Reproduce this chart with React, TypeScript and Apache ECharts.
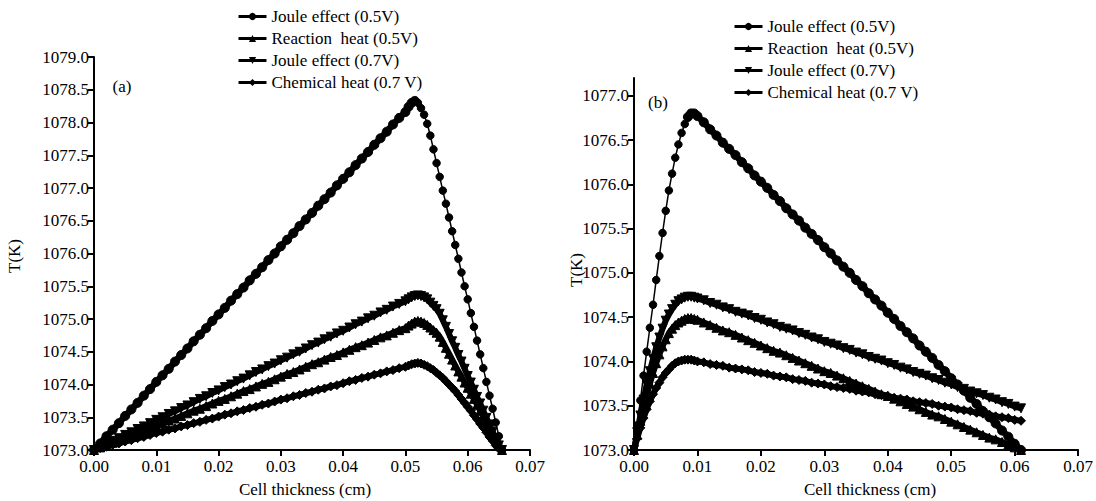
import React, { useEffect, useRef } from "react";
import * as echarts from "echarts";

const seriesNames = ["Joule effect (0.5V)", "Reaction  heat (0.5V)", "Joule effect (0.7V)", "Chemical heat (0.7 V)"];
const seriesSymbols = ["circle", "triangle", "triangle", "diamond"];
const symbolRotations = [0, 0, 180, 0];

// Panel (a)
const xA = [
  0, 0.001, 0.002, 0.003, 0.004, 0.005, 0.006, 0.007, 0.008, 0.009,
  0.010, 0.011, 0.012, 0.013, 0.014, 0.015, 0.016, 0.017, 0.018, 0.019,
  0.020, 0.021, 0.022, 0.023, 0.024, 0.025, 0.026, 0.027, 0.028, 0.029,
  0.030, 0.031, 0.032, 0.033, 0.034, 0.035, 0.036, 0.037, 0.038, 0.039,
  0.040, 0.041, 0.042, 0.043, 0.044, 0.045, 0.046, 0.047, 0.048, 0.049,
  0.050, 0.0505, 0.051, 0.0515, 0.052, 0.0525, 0.053, 0.0535, 0.054, 0.0545,
  0.055, 0.0555, 0.056, 0.0565, 0.057, 0.0575, 0.058, 0.0585, 0.059, 0.0595,
  0.060, 0.0605, 0.061, 0.0615, 0.062, 0.0625, 0.063, 0.0635, 0.064, 0.0645,
  0.065, 0.0655,
];
const jouleA05 = [
  1073.00, 1073.10, 1073.21, 1073.31, 1073.41, 1073.52, 1073.62, 1073.72, 1073.83, 1073.93,
  1074.04, 1074.14, 1074.24, 1074.35, 1074.45, 1074.55, 1074.66, 1074.76, 1074.86, 1074.97,
  1075.07, 1075.17, 1075.28, 1075.38, 1075.48, 1075.59, 1075.69, 1075.79, 1075.90, 1076.00,
  1076.11, 1076.21, 1076.31, 1076.42, 1076.52, 1076.62, 1076.73, 1076.83, 1076.93, 1077.04,
  1077.14, 1077.24, 1077.35, 1077.45, 1077.55, 1077.66, 1077.76, 1077.86, 1077.97, 1078.07,
  1078.16, 1078.24, 1078.30, 1078.33, 1078.30, 1078.22, 1078.12, 1077.98, 1077.80, 1077.59,
  1077.38, 1077.17, 1076.96, 1076.76, 1076.55, 1076.34, 1076.13, 1075.92, 1075.71, 1075.50,
  1075.30, 1075.09, 1074.88, 1074.67, 1074.46, 1074.25, 1074.04, 1073.83, 1073.63, 1073.42,
  1073.21, 1073.00,
];
const reactionA05 = [
  1073.00, 1073.04, 1073.07, 1073.11, 1073.15, 1073.19, 1073.22, 1073.26, 1073.30, 1073.34,
  1073.37, 1073.41, 1073.45, 1073.48, 1073.52, 1073.56, 1073.60, 1073.63, 1073.67, 1073.71,
  1073.75, 1073.78, 1073.82, 1073.86, 1073.90, 1073.93, 1073.97, 1074.01, 1074.04, 1074.08,
  1074.12, 1074.16, 1074.19, 1074.23, 1074.27, 1074.31, 1074.34, 1074.38, 1074.42, 1074.45,
  1074.49, 1074.53, 1074.57, 1074.60, 1074.64, 1074.68, 1074.72, 1074.75, 1074.79, 1074.83,
  1074.86, 1074.90, 1074.93, 1074.96, 1074.97, 1074.96, 1074.94, 1074.91, 1074.87, 1074.83,
  1074.79, 1074.73, 1074.65, 1074.56, 1074.47, 1074.38, 1074.29, 1074.20, 1074.12, 1074.03,
  1073.95, 1073.86, 1073.78, 1073.69, 1073.60, 1073.52, 1073.43, 1073.34, 1073.26, 1073.17,
  1073.09, 1073.00,
];
const jouleA07 = [
  1073.00, 1073.05, 1073.09, 1073.14, 1073.18, 1073.23, 1073.27, 1073.32, 1073.36, 1073.41,
  1073.46, 1073.50, 1073.55, 1073.59, 1073.64, 1073.68, 1073.73, 1073.78, 1073.82, 1073.87,
  1073.91, 1073.96, 1074.00, 1074.05, 1074.09, 1074.14, 1074.19, 1074.23, 1074.28, 1074.32,
  1074.37, 1074.41, 1074.46, 1074.50, 1074.55, 1074.60, 1074.64, 1074.69, 1074.73, 1074.78,
  1074.82, 1074.87, 1074.92, 1074.96, 1075.01, 1075.05, 1075.10, 1075.14, 1075.19, 1075.23,
  1075.27, 1075.30, 1075.33, 1075.35, 1075.36, 1075.35, 1075.33, 1075.30, 1075.25, 1075.20,
  1075.15, 1075.08, 1074.98, 1074.88, 1074.77, 1074.66, 1074.56, 1074.45, 1074.35, 1074.24,
  1074.13, 1074.03, 1073.92, 1073.81, 1073.71, 1073.60, 1073.49, 1073.39, 1073.28, 1073.18,
  1073.07, 1073.00,
];
const chemA07 = [
  1073.00, 1073.03, 1073.05, 1073.08, 1073.10, 1073.13, 1073.15, 1073.18, 1073.20, 1073.23,
  1073.26, 1073.28, 1073.31, 1073.33, 1073.36, 1073.38, 1073.41, 1073.43, 1073.46, 1073.48,
  1073.51, 1073.54, 1073.56, 1073.59, 1073.61, 1073.64, 1073.66, 1073.69, 1073.71, 1073.74,
  1073.77, 1073.79, 1073.82, 1073.84, 1073.87, 1073.89, 1073.92, 1073.94, 1073.97, 1073.99,
  1074.02, 1074.05, 1074.07, 1074.10, 1074.12, 1074.15, 1074.17, 1074.20, 1074.22, 1074.25,
  1074.27, 1074.29, 1074.31, 1074.32, 1074.33, 1074.32, 1074.30, 1074.28, 1074.25, 1074.22,
  1074.18, 1074.14, 1074.10, 1074.05, 1074.00, 1073.95, 1073.90, 1073.84, 1073.78, 1073.72,
  1073.66, 1073.60, 1073.53, 1073.47, 1073.40, 1073.34, 1073.27, 1073.20, 1073.14, 1073.07,
  1073.02, 1073.00,
];

// Panel (b)
const xB = [
  0, 0.0005, 0.001, 0.0015, 0.002, 0.0025, 0.003, 0.0035, 0.004, 0.0045,
  0.005, 0.0055, 0.006, 0.0065, 0.007, 0.0075, 0.008, 0.0085, 0.009, 0.0095,
  0.010, 0.011, 0.012, 0.013, 0.014, 0.015, 0.016, 0.017, 0.018, 0.019,
  0.020, 0.021, 0.022, 0.023, 0.024, 0.025, 0.026, 0.027, 0.028, 0.029,
  0.030, 0.031, 0.032, 0.033, 0.034, 0.035, 0.036, 0.037, 0.038, 0.039,
  0.040, 0.041, 0.042, 0.043, 0.044, 0.045, 0.046, 0.047, 0.048, 0.049,
  0.050, 0.051, 0.052, 0.053, 0.054, 0.055, 0.056, 0.057, 0.058, 0.059,
  0.060, 0.061,
];
const jouleB05 = [
  1073.00, 1073.28, 1073.56, 1073.84, 1074.11, 1074.38, 1074.64, 1074.92, 1075.19, 1075.45,
  1075.70, 1075.93, 1076.12, 1076.30, 1076.45, 1076.58, 1076.68, 1076.76, 1076.80, 1076.80,
  1076.77, 1076.70, 1076.62, 1076.55, 1076.47, 1076.40, 1076.33, 1076.25, 1076.18, 1076.10,
  1076.03, 1075.96, 1075.88, 1075.81, 1075.73, 1075.66, 1075.59, 1075.51, 1075.44, 1075.37,
  1075.29, 1075.22, 1075.14, 1075.07, 1075.00, 1074.92, 1074.85, 1074.77, 1074.70, 1074.63,
  1074.55, 1074.48, 1074.40, 1074.33, 1074.26, 1074.18, 1074.11, 1074.04, 1073.96, 1073.89,
  1073.81, 1073.74, 1073.67, 1073.59, 1073.52, 1073.44, 1073.37, 1073.30, 1073.22, 1073.15,
  1073.07, 1073.00,
];
const reactionB05 = [
  1073.00, 1073.17, 1073.33, 1073.48, 1073.62, 1073.75, 1073.87, 1073.98, 1074.08, 1074.17,
  1074.25, 1074.32, 1074.37, 1074.41, 1074.44, 1074.46, 1074.48, 1074.49, 1074.49, 1074.48,
  1074.47, 1074.44, 1074.41, 1074.38, 1074.35, 1074.33, 1074.30, 1074.27, 1074.24, 1074.21,
  1074.18, 1074.15, 1074.12, 1074.10, 1074.07, 1074.04, 1074.01, 1073.98, 1073.95, 1073.92,
  1073.89, 1073.87, 1073.84, 1073.81, 1073.78, 1073.75, 1073.72, 1073.69, 1073.66, 1073.63,
  1073.61, 1073.58, 1073.55, 1073.52, 1073.49, 1073.46, 1073.43, 1073.40, 1073.38, 1073.35,
  1073.32, 1073.29, 1073.26, 1073.23, 1073.20, 1073.17, 1073.14, 1073.12, 1073.09, 1073.06,
  1073.03, 1073.00,
];
const jouleB07 = [
  1073.00, 1073.20, 1073.39, 1073.57, 1073.74, 1073.89, 1074.03, 1074.16, 1074.27, 1074.37,
  1074.46, 1074.53, 1074.59, 1074.64, 1074.68, 1074.70, 1074.72, 1074.73, 1074.73, 1074.72,
  1074.71, 1074.69, 1074.66, 1074.64, 1074.61, 1074.59, 1074.56, 1074.54, 1074.52, 1074.49,
  1074.47, 1074.44, 1074.42, 1074.39, 1074.37, 1074.35, 1074.32, 1074.30, 1074.27, 1074.25,
  1074.22, 1074.20, 1074.18, 1074.15, 1074.13, 1074.10, 1074.08, 1074.05, 1074.03, 1074.01,
  1073.98, 1073.96, 1073.93, 1073.91, 1073.88, 1073.86, 1073.84, 1073.81, 1073.79, 1073.76,
  1073.74, 1073.71, 1073.69, 1073.66, 1073.64, 1073.62, 1073.59, 1073.57, 1073.54, 1073.52,
  1073.49, 1073.47,
];
const chemB07 = [
  1073.00, 1073.13, 1073.25, 1073.36, 1073.46, 1073.55, 1073.63, 1073.70, 1073.76, 1073.82,
  1073.87, 1073.91, 1073.95, 1073.98, 1074.00, 1074.01, 1074.02, 1074.02, 1074.02, 1074.01,
  1074.00, 1073.99, 1073.97, 1073.96, 1073.95, 1073.93, 1073.92, 1073.91, 1073.90, 1073.88,
  1073.87, 1073.86, 1073.84, 1073.83, 1073.82, 1073.80, 1073.79, 1073.78, 1073.76, 1073.75,
  1073.74, 1073.72, 1073.71, 1073.70, 1073.69, 1073.67, 1073.66, 1073.65, 1073.63, 1073.62,
  1073.61, 1073.59, 1073.58, 1073.57, 1073.55, 1073.54, 1073.53, 1073.52, 1073.50, 1073.49,
  1073.48, 1073.46, 1073.45, 1073.44, 1073.42, 1073.41, 1073.40, 1073.38, 1073.37, 1073.36,
  1073.34, 1073.33,
];

const yTicksA = [1073, 1073.5, 1074, 1074.5, 1075, 1075.5, 1076, 1076.5, 1077, 1077.5, 1078, 1078.5, 1079];
const yTicksB = [1073, 1073.5, 1074, 1074.5, 1075, 1075.5, 1076, 1076.5, 1077];
const xTicks = [0, 0.01, 0.02, 0.03, 0.04, 0.05, 0.06, 0.07];

const FONT = "Liberation Serif";
const FS = 17;

function zip(xs: number[], ys: number[]) {
  const out: number[][] = [];
  for (let i = 0; i < Math.min(xs.length, ys.length); i++) out.push([xs[i], ys[i]]);
  return out;
}

export default function App() {
  const ref = useRef<HTMLDivElement>(null);
  useEffect(() => {
    if (!ref.current) return;
    const chart = echarts.init(ref.current, undefined, { renderer: "svg" });
    const axisLine = { show: true, onZero: false, lineStyle: { color: "#000", width: 2 } };
    const axisTick = { show: true, length: 6, lineStyle: { color: "#000", width: 2 } };
    const labelStyle = { color: "#000", fontFamily: FONT, fontSize: FS };
    const mkX = (gridIndex: number) => ({
      type: "value", gridIndex, min: 0, max: 0.07, interval: 0.01,
      axisLine, axisTick: { ...axisTick, customValues: xTicks },
      axisLabel: { ...labelStyle, margin: 8, customValues: xTicks, formatter: (v: number) => v.toFixed(2) },
      splitLine: { show: false },
    });
    const mkY = (gridIndex: number, max: number, ticks: number[]) => ({
      type: "value", gridIndex, min: 1073, max, interval: 0.5,
      axisLine, axisTick: { ...axisTick, customValues: ticks },
      axisLabel: { ...labelStyle, margin: 5, customValues: ticks, formatter: (v: number) => v.toFixed(1) },
      splitLine: { show: false },
    });
    const panels = [
      { x: xA, ys: [jouleA05, reactionA05, jouleA07, chemA07], thinFrom: 53, thinTo: 82 },
      { x: xB, ys: [jouleB05, reactionB05, jouleB07, chemB07], thinFrom: 0, thinTo: 17 },
    ];
    const series: any[] = [];
    const mk = (pi: number, si: number, data: number[][], width: number, size: number) => ({
      type: "line",
      name: seriesNames[si],
      xAxisIndex: pi,
      yAxisIndex: pi,
      data,
      symbol: seriesSymbols[si],
      symbolRotate: symbolRotations[si],
      symbolSize: size,
      showSymbol: true,
      lineStyle: { color: "#000", width },
      itemStyle: { color: "#000", borderColor: "#000" },
      emphasis: { disabled: true },
    });
    panels.forEach((p, pi) => {
      p.ys.forEach((ys, si) => {
        const pts = zip(p.x, ys);
        if (si === 0) {
          // first series: thick band where points crowd, thin line with beads elsewhere
          if (p.thinFrom > 0) {
            series.push(mk(pi, si, pts.slice(0, p.thinFrom + 1), 6.5, 9));
            series.push(mk(pi, si, pts.slice(p.thinFrom), 1.5, 7.5));
          } else {
            series.push(mk(pi, si, pts.slice(0, p.thinTo + 1), 1.5, 7.5));
            series.push(mk(pi, si, pts.slice(p.thinTo), 6.5, 9));
          }
        } else {
          series.push(mk(pi, si, pts, 6, 9));
        }
      });
    });
    const legendBase = {
      orient: "vertical",
      data: seriesNames,
      itemWidth: 28,
      itemHeight: 9,
      itemGap: 5,
      padding: 0,
      selectedMode: false,
      lineStyle: { color: "#000", width: 3 },
      itemStyle: { color: "#000" },
      textStyle: { color: "#000", fontFamily: FONT, fontSize: FS, lineHeight: 17 },
    };
    const txt = (x: number, y: number, text: string, extra: any = {}) => ({
      type: "text", x, y, ...extra,
      style: { text, fontFamily: FONT, fontSize: FS, fill: "#000", textAlign: "center", textVerticalAlign: "middle" },
    });
    chart.setOption({
      animation: false,
      backgroundColor: "#fff",
      grid: [
        { left: 94, top: 57, width: 436, height: 393, containLabel: false },
        { left: 634, top: 78, width: 446, height: 372, containLabel: false },
      ],
      xAxis: [mkX(0), mkX(1)],
      yAxis: [mkY(0, 1079, yTicksA), mkY(1, 1077.2, yTicksB)],
      legend: [
        { ...legendBase, left: 237, top: 8 },
        { ...legendBase, left: 733, top: 18 },
      ],
      graphic: [
        txt(122, 86, "(a)"),
        txt(658, 102, "(b)"),
        txt(14, 256, "T(K)", { rotation: Math.PI / 2 }),
        txt(576, 270, "T(K)", { rotation: Math.PI / 2 }),
        txt(305, 489, "Cell thickness (cm)"),
        txt(870, 489, "Cell thickness (cm)"),
      ],
      series,
    });
    return () => chart.dispose();
  }, []);
  return <div ref={ref} style={{ position: "fixed", left: 0, top: 0, width: 1096, height: 501, background: "#fff" }} />;
}
